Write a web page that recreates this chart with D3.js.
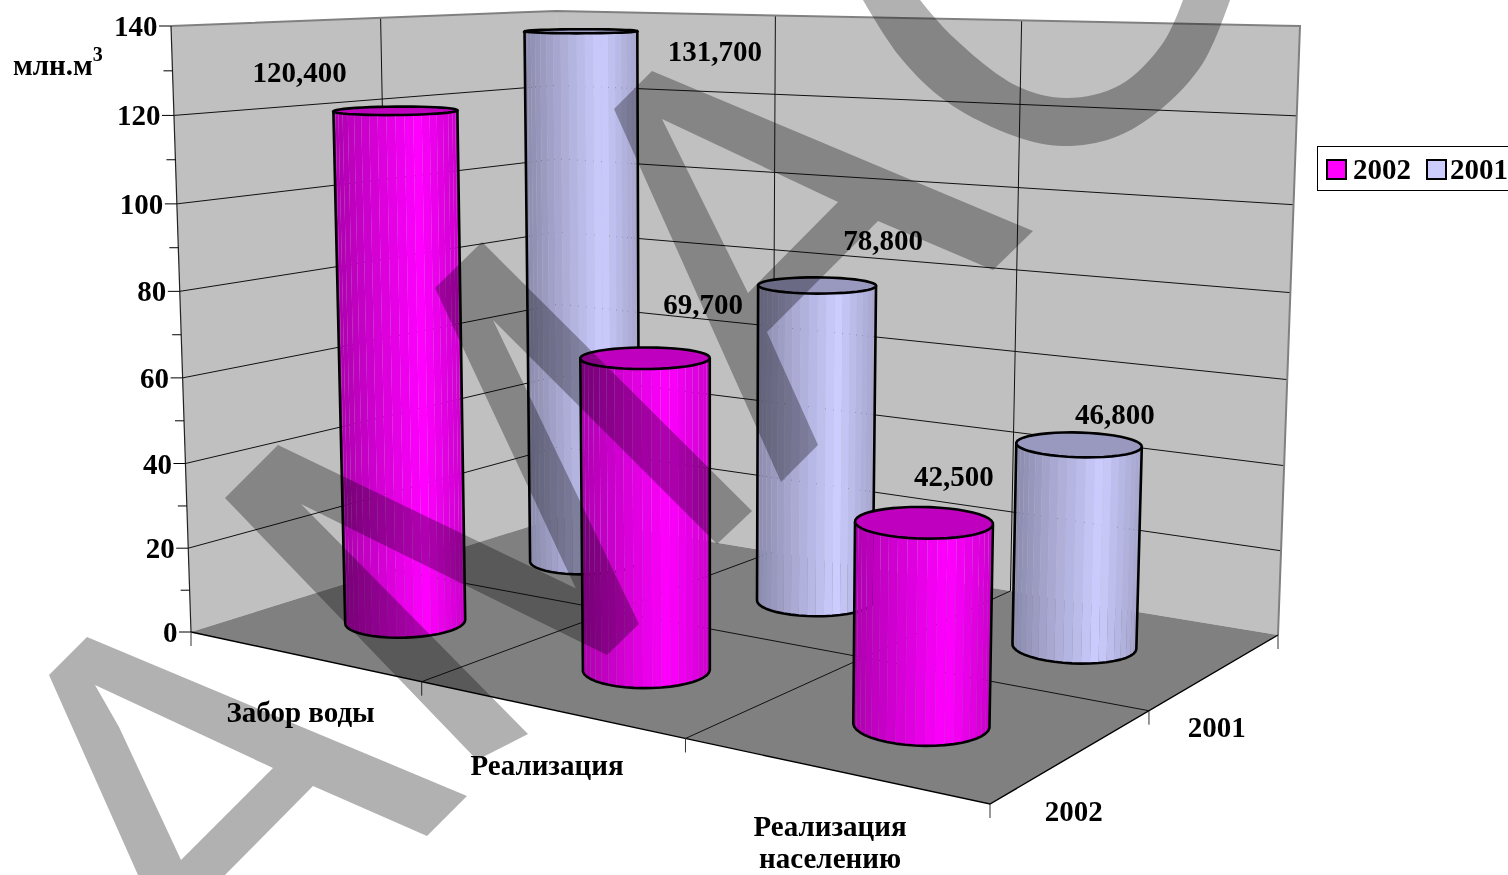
<!DOCTYPE html>
<html lang="ru"><head><meta charset="utf-8">
<script src="https://cdnjs.cloudflare.com/ajax/libs/d3/7.8.5/d3.min.js"></script>
<style>html,body{margin:0;padding:0;background:#fff;overflow:hidden}svg{display:block}
text{font-family:"Liberation Serif",serif;font-weight:700;fill:#000}</style></head>
<body><svg id="c" width="1508" height="875"></svg>
<script>
// ---- data ----
const categories = [["Забор воды"], ["Реализация"], ["Реализация", "населению"]];
const seriesNames = ["2002", "2001"];
const labels2002 = [120.4, 69.7, 42.5];
const labels2001 = [131.7, 78.8, 46.8];
// column heights as drawn in the picture (the tallest column stands above its printed label value)
const values2002 = [120.4, 69.7, 42.5];
const values2001 = [136.3, 77.5, 46.8];
const valueTicks = [0, 20, 40, 60, 80, 100, 120, 140];
const minorTicks = [10, 30, 50, 70, 90, 110, 130];
const unitLabel = "млн.м";
const unitPower = "3";
const seriesColors = ["#FF00FF", "#CCCCFF"];

// ---- camera: where the floor and wall corners fall on the page ----
const floorQuad = [[191, 632], [990, 804], [1278, 635], [560, 517]];
const wallTops = { frontLeft: [171, 26], backLeft: [556, 11], backRight: [1300, 26] };
const H = (() => {
  const [[x0, y0], [x1, y1], [x2, y2], [x3, y3]] = floorQuad;
  const dx1 = x1 - x2, dx2 = x3 - x2, sx = x0 - x1 + x2 - x3;
  const dy1 = y1 - y2, dy2 = y3 - y2, sy = y0 - y1 + y2 - y3;
  const den = dx1 * dy2 - dx2 * dy1;
  const g = (sx * dy2 - dx2 * sy) / den, h = (dx1 * sy - sx * dy1) / den;
  return { a: x1 - x0 + g * x1, b: x3 - x0 + h * x3, c: x0, d: y1 - y0 + g * y1, e: y3 - y0 + h * y3, f: y0, g, h };
})();
const hom = (u, w) => [H.a * u + H.b * w + H.c, H.d * u + H.e * w + H.f, H.g * u + H.h * w + 1];
const V = (() => {
  const h00 = hom(0, 0), h11 = hom(1, 1), h01 = hom(0, 1);
  const [xa, ya] = wallTops.frontLeft, [xb, yb] = wallTops.backRight, [xc, yc] = wallTops.backLeft;
  const ra = xa * h00[2] - h00[0], rb = xb * h11[2] - h11[0];
  const ew = (ra - rb) / (xb - xa);
  const ex = ra + xa * ew;
  const ey = d3.mean([[ya, h00], [yb, h11], [yc, h01]], ([y, h]) => y * (h[2] + ew) - h[1]);
  return { ex, ey, ew };
})();
const rawProject = (u, w, z) => {
  const h = hom(u, w), W = h[2] + z * V.ew;
  return [(h[0] + z * V.ex) / W, (h[1] + z * V.ey) / W];
};
// small residual so the three wall-top corners land exactly
const res = (t, u, w) => { const p = rawProject(u, w, 1); return [t[0] - p[0], t[1] - p[1]]; };
const r00 = res(wallTops.frontLeft, 0, 0), r01 = res(wallTops.backLeft, 0, 1), r11 = res(wallTops.backRight, 1, 1);
const project = (u, w, z) => {
  const p = rawProject(u, w, z);
  return [0, 1].map(i => p[i] + z * (r00[i] + (r11[i] - r01[i]) * u + (r01[i] - r00[i]) * w));
};

// ---- scales ----
const uScale = d3.scaleBand().domain(d3.range(categories.length)).range([0, 1]);
const wScale = d3.scaleBand().domain(seriesNames).range([0, 1]);
const zScale = d3.scaleLinear().domain([0, 140]).range([0, 1]);
const radiusU = 0.067, radiusW = 0.10;
const line = d3.line();
const svg = d3.select("#c");

// ---- walls and floor ----
const corner = (u, w, v) => project(u, w, zScale(v));
const poly = (pts, fill, par) => (par || svg).append("path").attr("d", line(pts) + "Z").attr("fill", fill);
poly([corner(0, 0, 140), corner(0, 1, 140), corner(0, 1, 0), corner(0, 0, 0)], "#C0C0C0");
poly([corner(0, 1, 140), corner(1, 1, 140), corner(1, 1, 0), corner(0, 1, 0)], "#C0C0C0");
poly([corner(0, 0, 0), corner(1, 0, 0), corner(1, 1, 0), corner(0, 1, 0)], "#808080");

const stroke = (pts, col, wd) => svg.append("path").attr("d", line(pts)).attr("fill", "none").attr("stroke", col).attr("stroke-width", wd);
valueTicks.slice(1, -1).forEach(v => stroke([corner(0, 0, v), corner(0, 1, v), corner(1, 1, v)], "#111", 1));
d3.range(1, seriesNames.length).forEach(i => stroke([corner(0, i / seriesNames.length, 0), corner(0, i / seriesNames.length, 140)], "#111", 1));
d3.range(1, categories.length).forEach(i => stroke([corner(i / categories.length, 1, 0), corner(i / categories.length, 1, 140)], "#111", 1));
d3.range(1, categories.length).forEach(i => stroke([corner(i / categories.length, 0, 0), corner(i / categories.length, 1, 0)], "#111", 1));
d3.range(1, seriesNames.length).forEach(i => stroke([corner(0, i / seriesNames.length, 0), corner(1, i / seriesNames.length, 0)], "#111", 1));
stroke([corner(0, 0, 140), corner(0, 1, 140), corner(1, 1, 140), corner(1, 1, 0)], "#808080", 2);
stroke([corner(0, 0, 140), corner(0, 0, 0)], "#222", 1.2);
stroke([corner(0, 0, 0), corner(1, 0, 0), corner(1, 1, 0)], "#000", 1.4);

// ---- value axis ----
const tickLen = 12, minorLen = 9, fontSize = 29;
valueTicks.forEach(v => {
  const p = corner(0, 0, v);
  stroke([[p[0] - tickLen, p[1]], p], "#000", 1);
  svg.append("text").attr("x", p[0] - tickLen - 1.5).attr("y", p[1] + 10).attr("text-anchor", "end")
    .attr("font-size", fontSize).text(v);
});
minorTicks.forEach(v => { const p = corner(0, 0, v); stroke([[p[0] - minorLen, p[1]], p], "#000", 1); });
const dropLen = 14;
d3.range(categories.length + 1).forEach(i => { const p = corner(i / categories.length, 0, 0); stroke([p, [p[0], p[1] + dropLen]], "#333", 1); });
d3.range(1, seriesNames.length + 1).forEach(i => { const p = corner(1, i / seriesNames.length, 0); stroke([p, [p[0], p[1] + dropLen]], "#333", 1); });

// ---- columns ----
const N = 44;
const shade = d3.scaleLinear().domain([0, 0.68, 1]).range([0.68, 1, 0.8]);
const scaleColor = (c, k) => { const r = d3.rgb(c); return d3.rgb(r.r * k, r.g * k, r.b * k).formatHex(); };
function column(ci, si, value, color) {
  const cu = uScale(ci) + uScale.bandwidth() / 2, cw = wScale(seriesNames[si]) + wScale.bandwidth() / 2;
  const ring = z => d3.range(N).map(k => {
    const a = k / N * 2 * Math.PI;
    return project(cu + radiusU * Math.cos(a), cw + radiusW * Math.sin(a), z);
  });
  const z = zScale(value), bot = ring(0), top = ring(z);
  const g = svg.append("g");
  const iLb = d3.minIndex(bot, d => d[0]), iRb = d3.maxIndex(bot, d => d[0]);
  const iLt = d3.minIndex(top, d => d[0]), iRt = d3.maxIndex(top, d => d[0]);
  const nearArc = (r, iA, iB) => {
    const one = [], two = [];
    for (let k = iA; ; k = (k + 1) % N) { one.push(k); if (k === iB) break; }
    for (let k = iB; ; k = (k + 1) % N) { two.push(k); if (k === iA) break; }
    two.reverse();
    return d3.mean(one, k => r[k][1]) > d3.mean(two, k => r[k][1]) ? one : two;
  };
  const fb = nearArc(bot, iLb, iRb);
  const xL = bot[iLb][0], xR = bot[iRb][0];
  for (let j = 0; j < fb.length - 1; j++) {
    const a = fb[j], b = fb[j + 1];
    const s = ((bot[a][0] + bot[b][0]) / 2 - xL) / (xR - xL);
    g.append("path").attr("d", line([bot[a], bot[b], top[b], top[a]]) + "Z").attr("fill", scaleColor(color, shade(s)));
  }
  g.append("path").attr("d", line([top[iLt]].concat(fb.map(k => bot[k]), [top[iRt]]))).attr("fill", "none").attr("stroke", "#000").attr("stroke-width", 2.6).attr("stroke-linejoin", "round");
  g.append("path").attr("d", line(top) + "Z").attr("fill", scaleColor(color, 0.75)).attr("stroke", "#000").attr("stroke-width", 2.6);
  return project(cu, cw, z);
}
const rows = [values2001, values2002];
const rowIdx = [1, 0];
const tops = {};
rows.forEach((vals, r) => vals.forEach((v, c) => { tops[c + "_" + rowIdx[r]] = column(c, rowIdx[r], v, seriesColors[rowIdx[r]]); }));

// ---- data labels ----
const fmt = v => v.toFixed(3).replace(".", ",");
const labelOffsets = { "0_0": [-96, -29], "0_1": [134, 30], "1_0": [58, -44], "1_1": [66, -35], "2_0": [30, -36], "2_1": [36, -21] };
[labels2002, labels2001].forEach((vals, s) => vals.forEach((v, c) => {
  const p = tops[c + "_" + s], o = labelOffsets[c + "_" + s];
  svg.append("text").attr("x", p[0] + o[0]).attr("y", p[1] + o[1]).attr("text-anchor", "middle").attr("font-size", fontSize).text(fmt(v));
}));

// ---- axis labels ----
categories.forEach((lines, c) => {
  const p = project(uScale(c) + uScale.bandwidth() / 2, 0, 0);
  lines.forEach((t, i) => svg.append("text").attr("x", p[0] - 2).attr("y", p[1] + 66 + i * 32)
    .attr("text-anchor", "middle").attr("font-size", fontSize).text(t));
});
seriesNames.forEach(s => {
  const p = project(1, wScale(s) + wScale.bandwidth() / 2, 0);
  svg.append("text").attr("x", p[0]).attr("y", p[1] + 66).attr("text-anchor", "middle").attr("font-size", fontSize).text(s);
});
const unit = svg.append("text").attr("x", 13).attr("y", 75).attr("font-size", fontSize);
unit.append("tspan").text(unitLabel);
unit.append("tspan").attr("dy", -14).attr("font-size", 20).text(unitPower);

// ---- legend ----
const legend = svg.append("g").attr("transform", "translate(1317,146)");
legend.append("rect").attr("x", .5).attr("y", .5).attr("width", 240).attr("height", 44).attr("fill", "#fff").attr("stroke", "#000");
seriesNames.forEach((s, i) => {
  const x = 10 + i * 100;
  legend.append("rect").attr("x", x).attr("y", 14).attr("width", 19).attr("height", 19).attr("fill", seriesColors[i]).attr("stroke", "#000").attr("stroke-width", 2);
  legend.append("text").attr("x", x + 26 - i * 3).attr("y", 33).attr("font-size", fontSize).text(s);
});

// ---- watermark ----
const wm = svg.append("g").style("mix-blend-mode", "multiply").attr("fill", "#b1b1b1").attr("fill-rule", "evenodd");
const closed = p => line(p) + "Z";
const stampOuter1 = [[87, 637], [467, 796], [427, 836], [313, 786], [225, 875], [138, 875], [49, 675]];
const stampHole1 = [[95, 685], [273, 768], [181, 860], [119, 727]];
const stampOuter2 = [[278, 445], [600, 600], [607, 655], [301, 504], [528, 734], [477, 760], [225, 498]];
const stampOuter3 = [[482, 242], [752, 511], [717, 544], [493, 320], [639, 624], [607, 655], [435, 288]];
const stampOuter4 = [[652, 71], [1033, 231], [993, 270], [878, 221], [767, 332], [818, 445], [781, 482], [614, 109]];
const stampHole4 = [[662, 119], [838, 202], [748, 293]];
const arcOuter = [[863, 0], [900, 57], [947, 102], [1017, 137], [1063, 146], [1113, 138], [1160, 110], [1203, 63], [1230, 0]];
const arcInner = [[1183, 0], [1163, 43], [1120, 85], [1067, 98], [1017, 86], [953, 37], [920, 0]];
const allStamps = [closed(stampOuter1) + closed(stampHole1), closed(stampOuter2), closed(stampOuter3), closed(stampOuter4) + closed(stampHole4)];
wm.selectAll("path.stamp").data(allStamps).join("path").attr("class", "stamp").attr("d", d => d);
const curve = d3.line().curve(d3.curveCatmullRom);
wm.append("path").attr("d", curve(arcOuter) + "L" + curve(arcInner).slice(1) + "Z");
</script></body></html>
